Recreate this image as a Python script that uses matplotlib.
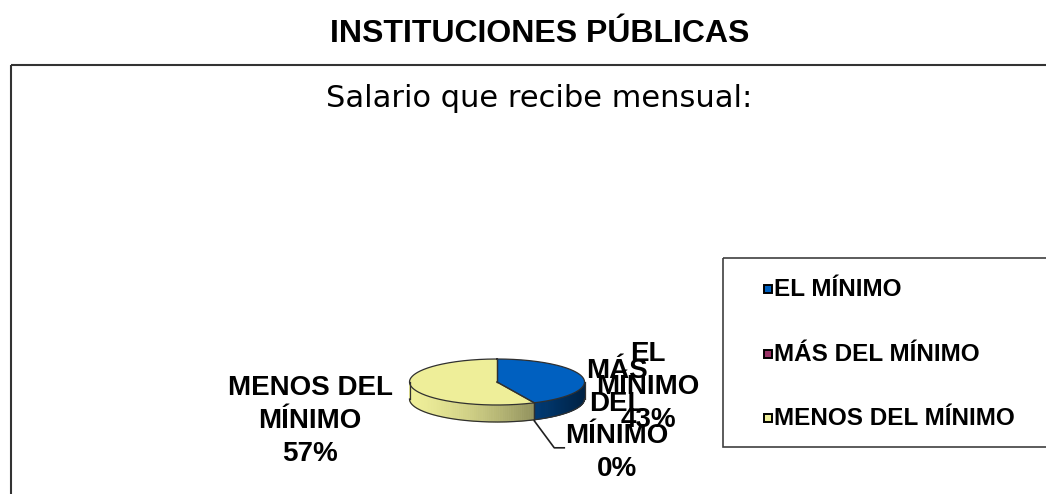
import numpy as np
import matplotlib.pyplot as plt
from matplotlib.patches import Polygon, Rectangle

categories = ['EL MÍNIMO', 'MÁS DEL MÍNIMO', 'MENOS DEL MÍNIMO']
values = [43, 0, 57]
pie_labels = ['EL\nMÍNIMO\n43%', 'MÁS\nDEL\nMÍNIMO\n0%', 'MENOS DEL\nMÍNIMO\n57%']
colors = ['#0060c0', '#993366', '#eeee99']

title = 'INSTITUCIONES PÚBLICAS'
chart_title = 'Salario que recibe mensual:'

fig = plt.figure(figsize=(10.46, 4.94), dpi=100)
ax = fig.add_axes([0, 0, 1, 1])
ax.set_xlim(0, 1046)
ax.set_ylim(494, 0)
ax.axis('off')

# pie geometry (pixels)
cx, cy, rx, ry, depth = 497, 382, 87.5, 23, 17


def rim(t, dy=0.0):
    r = np.radians(t)
    return cx + rx * np.sin(r), cy - ry * np.cos(r) + dy


def rgb(c):
    c = c.lstrip('#')
    return np.array([int(c[i:i + 2], 16) for i in (0, 2, 4)]) / 255.0


total = float(sum(values))
bounds = np.concatenate([[0], np.cumsum(values) / total * 360])

# side walls, shaded darker toward the right
for i, col in enumerate(colors):
    a, b = bounds[i], bounds[i + 1]
    lo, hi = max(a, 90), min(b, 270)
    if hi <= lo:
        continue
    ts = np.linspace(lo, hi, 80)
    base = rgb(col)
    for t0, t1 in zip(ts[:-1], ts[1:]):
        s = (np.sin(np.radians((t0 + t1) / 2)) + 1) / 2
        f = 1 - 0.65 * s ** 1.5
        c = np.clip(base * f, 0, 1)
        x0, y0 = rim(t0)
        x1, y1 = rim(t1)
        poly = [(x0, y0), (x1, y1), (x1, y1 + depth), (x0, y0 + depth)]
        ax.add_patch(Polygon(poly, closed=True, fc=c, ec=c, lw=0.6, zorder=2))

# top faces
for i, col in enumerate(colors):
    a, b = bounds[i], bounds[i + 1]
    if b <= a:
        continue
    ts = np.linspace(a, b, 200)
    pts = [(cx, cy)] + [rim(t) for t in ts]
    ax.add_patch(Polygon(pts, closed=True, fc=col, ec='none', zorder=3))

# outlines
edge = '#303030'
tt = np.linspace(0, 360, 400)
ex, ey = zip(*[rim(t) for t in tt])
ax.plot(ex, ey, color=edge, lw=0.9, zorder=4)
tt = np.linspace(90, 270, 200)
ex, ey = zip(*[rim(t, depth) for t in tt])
ax.plot(ex, ey, color=edge, lw=0.9, zorder=4)
for t in (90, 270):
    x, y = rim(t)
    ax.plot([x, x], [y, y + depth], color=edge, lw=0.9, zorder=4)
for i in range(len(values)):
    if values[i] == 0:
        continue
    for t in (bounds[i], bounds[i + 1]):
        x, y = rim(t)
        ax.plot([cx, x], [cy, y], color=edge, lw=0.9, zorder=4)
        if 90 < t < 270:
            ax.plot([x, x], [y, y + depth], color=edge, lw=0.9, zorder=4)

# data labels
label_pos = [(648, 387), (617, 420), (310, 421)]
for i, lab in enumerate(pie_labels):
    ax.text(label_pos[i][0], label_pos[i][1], lab, ha='center', va='center',
            fontsize=20, fontweight='bold', family='Liberation Sans',
            linespacing=1.34, zorder=5)
    if values[i] == 0:
        x, y = rim(bounds[i], depth)
        ax.plot([x, x + 20, x + 30], [y + 1, y + 28, y + 28], color='#202020', lw=1.2, zorder=4)

# frame and titles
ax.add_patch(Rectangle((11, 65), 1200, 600, fill=False, ec='#333333', lw=1.5, zorder=1))
ax.text(540, 42, title, ha='center', va='baseline', fontsize=23,
        fontweight='bold', family='Liberation Sans')
ax.text(539, 107, chart_title, ha='center', va='baseline', fontsize=22,
        family='DejaVu Sans')

# legend
ax.add_patch(Rectangle((723, 258), 400, 189, fill=False, ec='#404040', lw=1.2, zorder=1))
leg_y = [289, 354, 418]
for i, name in enumerate(categories):
    ax.add_patch(Rectangle((764, leg_y[i] - 4), 8, 8, fc=colors[i], ec='black', lw=1.4, zorder=3))
    ax.text(774, leg_y[i], name, ha='left', va='center', fontsize=17.5,
            fontweight='bold', family='Liberation Sans')

fig.savefig('out.png', dpi=100)
